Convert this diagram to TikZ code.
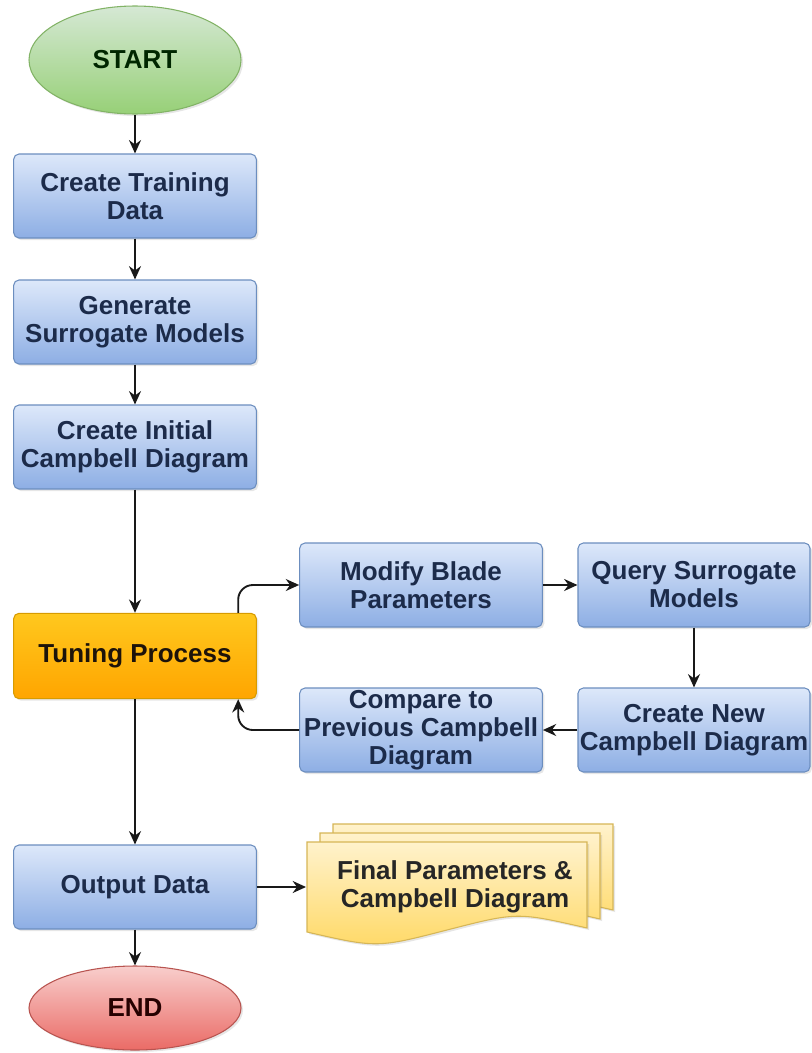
\documentclass[tikz,border=0pt]{standalone}
\usepackage{fontspec}
\setmainfont{Liberation Sans}
\usetikzlibrary{arrows.meta,shapes.geometric,shadows}
\definecolor{boxtop}{HTML}{DDE8FA}
\definecolor{boxbot}{HTML}{8DAEE4}
\definecolor{boxline}{HTML}{6C8EBF}
\definecolor{boxtext}{HTML}{1C2B4A}
\definecolor{tunetop}{HTML}{FFC81E}
\definecolor{tunebot}{HTML}{FFA500}
\definecolor{tuneline}{HTML}{D79B00}
\definecolor{doctop}{HTML}{FFF2CC}
\definecolor{docbot}{HTML}{FFD966}
\definecolor{docline}{HTML}{D6B656}
\definecolor{starttop}{HTML}{D5E8D4}
\definecolor{startbot}{HTML}{97D077}
\definecolor{startline}{HTML}{82B366}
\definecolor{endtop}{HTML}{F8CECC}
\definecolor{endbot}{HTML}{EA6B66}
\definecolor{endline}{HTML}{B85450}

\begin{document}
\begin{tikzpicture}[x=0.75pt, y=-0.75pt,
    every node/.style={font=\bfseries\fontsize{19.5}{21}\selectfont, align=center, inner sep=0pt},
    shade/.style={drop shadow={shadow xshift=1.5pt, shadow yshift=-1.5pt, opacity=0.2}},
    box/.style={shade, draw=boxline, line width=0.8pt, rounded corners=4pt, top color=boxtop, bottom color=boxbot,
        text=boxtext, minimum width=182pt, minimum height=63pt},
    tunebox/.style={box, draw=tuneline, top color=tunetop, bottom color=tunebot, text=black!85!brown, minimum height=64pt},
    term/.style={shade, ellipse, line width=0.8pt, minimum width=159pt},
    doc/.style={shade, draw=docline, line width=0.8pt, top color=doctop, bottom color=docbot},
    flow/.style={-{Stealth[length=10pt,width=9pt]}, line width=1.4pt, black!90}]
    \useasboundingbox (0,0) rectangle (811,1053);

    % main column
    \node[term, draw=startline, top color=starttop, bottom color=startbot, text=black!85!green, minimum height=81pt] (start) at (135,60) {START};
    \node[box] (train) at (135,196) {Create Training\\Data};
    \node[box] (surr) at (135,322) {Generate\\Surrogate Models};
    \node[box] (init) at (135,447) {Create Initial\\Campbell Diagram};
    \node[tunebox] (tune) at (135,656) {Tuning Process};
    \node[box] (output) at (135,887) {Output Data};
    \node[term, draw=endline, top color=endtop, bottom color=endbot, text=black!85!red, minimum height=63pt] (end) at (135,1008) {END};

    % tuning loop
    \node[box] (modify) at (421,585) {Modify Blade\\Parameters};
    \node[box, minimum width=174pt] (query) at (694,585) {Query Surrogate\\Models};
    \node[box, minimum width=174pt] (new) at (694,730) {Create New\\Campbell Diagram};
    \node[box] (compare) at (421,730) {Compare to\\Previous Campbell\\Diagram};

    % stacked output pages
    \foreach \dx/\dy in {26/-18, 13/-9, 0/0} {
        \draw[doc] (307+\dx,842+\dy) -- (587+\dx,842+\dy) -- (587+\dx,928+\dy)
            .. controls (517+\dx,912+\dy) .. (447+\dx,930+\dy)
            .. controls (377+\dx,948+\dy) .. (307+\dx,932+\dy) -- cycle;
    }
    \node[text=black!85] (final) at (455,887) {Final Parameters \&\\Campbell Diagram};
    \coordinate (finalin) at (306,887);

    % connectors
    \draw[flow] (start) -- (train);
    \draw[flow] (train) -- (surr);
    \draw[flow] (surr) -- (init);
    \draw[flow] (init) -- (tune);
    \draw[flow] (tune) -- (output);
    \draw[flow] (output) -- (end);
    \draw[flow] (output) -- (finalin);
    \draw[flow, rounded corners=11pt] ([xshift=-14pt]tune.north east) |- (modify.west);
    \draw[flow] (modify) -- (query);
    \draw[flow] (query) -- (new);
    \draw[flow] (new) -- (compare);
    \draw[flow, rounded corners=11pt] (compare.west) -| ([xshift=-14pt]tune.south east);
\end{tikzpicture}
\end{document}
